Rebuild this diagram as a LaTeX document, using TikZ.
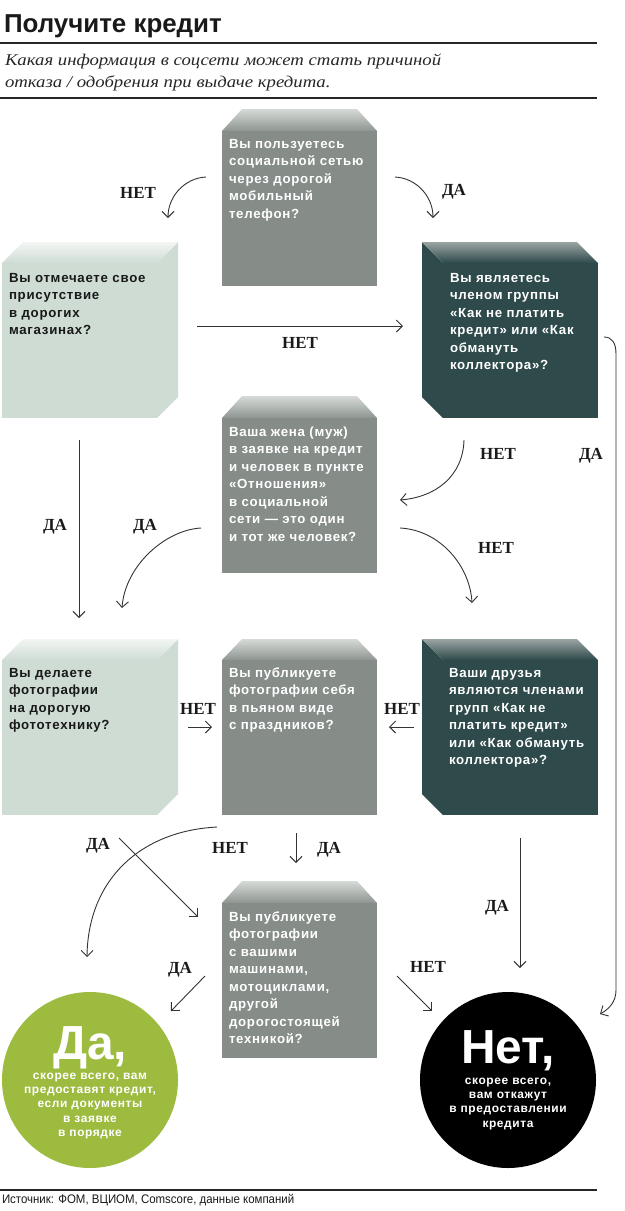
\documentclass[tikz,border=0pt]{standalone}
\usepackage{fontspec}
\setmainfont{Liberation Sans}
\newfontfamily\bxf[LetterSpace=5.5]{Liberation Sans}
\newfontfamily\cxf[LetterSpace=5]{Liberation Sans}
\newfontfamily\lbf{Liberation Serif}
\newfontfamily\subf[FakeStretch=1.14]{Liberation Serif}
\newfontfamily\ftf[FakeStretch=0.92]{Liberation Sans}
\usetikzlibrary{arrows.meta}
\definecolor{gbox}{HTML}{868D89}
\definecolor{gtop}{HTML}{D6DAD7}
\definecolor{gbot}{HTML}{8E9591}
\definecolor{lbox}{HTML}{CFDCD4}
\definecolor{ltop}{HTML}{F3F6F4}
\definecolor{dbox}{HTML}{2E4A4B}
\definecolor{dtop}{HTML}{9AA4A3}
\definecolor{grn}{HTML}{9CBB3F}
\definecolor{linec}{HTML}{333333}
\definecolor{labc}{HTML}{1A1A1A}
\begin{document}
\begin{tikzpicture}[x=1bp,y=-1bp,
  every node/.style={inner sep=0pt,outer sep=0pt},
  face/.style={draw=none,minimum width=155bp,minimum height=155bp,anchor=north west},
  btxt/.style={anchor=base west,text width=170bp,align=left,font=\bxf\bfseries\fontsize{13.3}{17.6}\selectfont},
  ctxt/.style={anchor=base,text width=180bp,align=center,text=white,font=\cxf\bfseries\fontsize{12}{14.5}\selectfont},
  big/.style={anchor=base,text=white,font=\bfseries\fontsize{48}{48}\selectfont},
  lbl/.style={anchor=base,text=labc,font=\lbf\bfseries\fontsize{17}{17}\selectfont},
  arr/.style={draw=linec,line width=0.9bp,-{Straight Barb[length=6bp,width=12bp]}},
  rule/.style={draw=black!85,line width=1.2bp}]
\useasboundingbox (0,0) rectangle (625,1211);

% header
\node[anchor=base west,font=\bfseries\fontsize{26}{26}\selectfont,text=black!90] (title) at (4,32) {Получите кредит};
\draw[rule] (0,43) -- (597,43);
\node[anchor=base west,font=\subf\itshape\fontsize{16.5}{22}\selectfont,text=black!85] (sub1) at (5,65) {Какая информация в соцсети может стать причиной};
\node[anchor=base west,font=\subf\itshape\fontsize{16.5}{22}\selectfont,text=black!85] (sub2) at (5,87) {отказа / одобрения при выдаче кредита.};
\draw[rule] (0,98) -- (597,98);

% ---- B1 grey (trapezoid top)
\shade[top color=gtop,bottom color=gbot] (222,131) -- (242,109) -- (357,109) -- (377,131) -- cycle;
\node[face,fill=gbox] (b1) at (222,131) {};
\node[btxt,text=white] (t1) at (229,148) {Вы пользуетесь\\социальной сетью\\через дорогой\\мобильный\\телефон?};

% ---- B2 light (side right)
\fill[lbox] (157,263) -- (178,242) -- (178,397) -- (157,418) -- cycle;
\shade[top color=ltop,bottom color=lbox] (2,263) -- (23,242) -- (178,242) -- (157,263) -- cycle;
\node[face,fill=lbox] (b2) at (2,263) {};
\node[btxt,text=black!90] (t2) at (9,282) {Вы отмечаете свое\\присутствие\\в дорогих\\магазинах?};

% ---- B3 dark (side left)
\fill[dbox] (443,263) -- (422,242) -- (422,397) -- (443,418) -- cycle;
\shade[top color=dtop,bottom color=dbox] (443,263) -- (422,242) -- (577,242) -- (598,263) -- cycle;
\node[face,fill=dbox] (b3) at (443,263) {};
\node[btxt,text=white] (t3) at (450,282) {Вы являетесь\\членом группы\\«Как не платить\\кредит» или «Как\\обмануть\\коллектора»?};

% ---- B4 grey
\shade[top color=gtop,bottom color=gbot] (222,418) -- (242,396) -- (357,396) -- (377,418) -- cycle;
\node[face,fill=gbox] (b4) at (222,418) {};
\node[btxt,text=white] (t4) at (229,436) {Ваша жена (муж)\\в заявке на кредит\\и человек в пункте\\«Отношения»\\в социальной\\сети — это один\\и тот же человек?};

% ---- B5 light
\fill[lbox] (157,660) -- (178,639) -- (178,794) -- (157,815) -- cycle;
\shade[top color=ltop,bottom color=lbox] (2,660) -- (23,639) -- (178,639) -- (157,660) -- cycle;
\node[face,fill=lbox] (b5) at (2,660) {};
\node[btxt,text=black!90] (t5) at (9,677) {Вы делаете\\фотографии\\на дорогую\\фототехнику?};

% ---- B6 grey
\shade[top color=gtop,bottom color=gbot] (222,660) -- (242,639) -- (357,639) -- (377,660) -- cycle;
\node[face,fill=gbox] (b6) at (222,660) {};
\node[btxt,text=white] (t6) at (229,677) {Вы публикуете\\фотографии себя\\в пьяном виде\\с праздников?};

% ---- B7 dark
\fill[dbox] (443,660) -- (422,639) -- (422,794) -- (443,815) -- cycle;
\shade[top color=dtop,bottom color=dbox] (443,660) -- (422,639) -- (577,639) -- (598,660) -- cycle;
\node[face,fill=dbox] (b7) at (443,660) {};
\node[btxt,text=white] (t7) at (449,677) {Ваши друзья\\являются членами\\групп «Как не\\платить кредит»\\или «Как обмануть\\коллектора»?};

% ---- B8 grey
\shade[top color=gtop,bottom color=gbot] (222,903) -- (242,881) -- (357,881) -- (377,903) -- cycle;
\node[face,fill=gbox] (b8) at (222,903) {};
\node[btxt,text=white] (t8) at (229,921) {Вы публикуете\\фотографии\\с вашими\\машинами,\\мотоциклами,\\другой\\дорогостоящей\\техникой?};

% ---- result circles
\node[circle,fill=grn,minimum size=176bp] (yes) at (90,1080) {};
\node[big] (yesbig) at (90,1059) {Да,};
\node[ctxt] (yestxt) at (90,1079) {скорее всего, вам\\предоставят кредит,\\если документы\\в заявке\\в порядке};
\node[circle,fill=black,minimum size=176bp] (no) at (508,1080) {};
\node[big] (nobig) at (508,1063) {Нет,};
\node[ctxt] (notxt) at (508,1084) {скорее всего,\\вам откажут\\в предоставлении\\кредита};

% ---- connector end points
\coordinate (a1s) at (206,177); \coordinate (a1e) at (168,218);
\coordinate (a2s) at (395,177); \coordinate (a2e) at (433,218);
\coordinate (a3s) at (197,326); \coordinate (a3e) at (403,326);
\coordinate (a4s) at (79,440);  \coordinate (a4e) at (79,618);
\coordinate (a5s) at (464,440); \coordinate (a5e) at (400,500);
\coordinate (a6s) at (604,337); \coordinate (a6e) at (600,1014);
\coordinate (a7s) at (201,528); \coordinate (a7e) at (122,608);
\coordinate (a8s) at (400,528); \coordinate (a8e) at (472,603);
\coordinate (a9s) at (188,727); \coordinate (a9e) at (212,727);
\coordinate (a10s) at (414,727); \coordinate (a10e) at (389,727);
\coordinate (a11s) at (119,838); \coordinate (a11e) at (198,917);
\coordinate (a12s) at (217,827); \coordinate (a12e) at (87,957);
\coordinate (a13s) at (296,833); \coordinate (a13e) at (296,863);
\coordinate (a14s) at (520,838); \coordinate (a14e) at (520,968);
\coordinate (a15s) at (205,976); \coordinate (a15e) at (171,1011);
\coordinate (a16s) at (397,976); \coordinate (a16e) at (432,1011);

\draw[arr] (a1s) .. controls (185,178) and (168,196) .. (a1e);
\draw[arr] (a2s) .. controls (416,178) and (433,196) .. (a2e);
\draw[arr] (a3s) -- (a3e);
\draw[arr] (a4s) -- (a4e);
\draw[arr] (a5s) .. controls (463,476) and (436,497) .. (a5e);
\draw[arr] (a6s) .. controls (612,337) and (616,343) .. (616,354) -- (616,990) .. controls (616,1002) and (609,1009) .. (a6e);
\draw[arr] (a7s) .. controls (165,530) and (125,566) .. (a7e);
\draw[arr] (a8s) .. controls (440,530) and (470,566) .. (a8e);
\draw[arr] (a9s) -- (a9e);
\draw[arr] (a10s) -- (a10e);
\draw[arr] (a11s) -- (a11e);
\draw[arr] (a12s) .. controls (140,831) and (88,880) .. (a12e);
\draw[arr] (a13s) -- (a13e);
\draw[arr] (a14s) -- (a14e);
\draw[arr] (a15s) -- (a15e);
\draw[arr] (a16s) -- (a16e);

% ---- labels
\node[lbl] (l1) at (138,198) {НЕТ};
\node[lbl] (l2) at (454,195) {ДА};
\node[lbl] (l3) at (300,348) {НЕТ};
\node[lbl] (l4) at (55,530) {ДА};
\node[lbl] (l5) at (498,459) {НЕТ};
\node[lbl] (l6) at (591,459) {ДА};
\node[lbl] (l7) at (145,530) {ДА};
\node[lbl] (l8) at (496,553) {НЕТ};
\node[lbl] (l9) at (198,714) {НЕТ};
\node[lbl] (l10) at (402,714) {НЕТ};
\node[lbl] (l11) at (98,849) {ДА};
\node[lbl] (l12) at (230,853) {НЕТ};
\node[lbl] (l13) at (329,853) {ДА};
\node[lbl] (l14) at (497,911) {ДА};
\node[lbl] (l15) at (180,973) {ДА};
\node[lbl] (l16) at (428,972) {НЕТ};

% footer
\draw[rule] (0,1190) -- (597,1190);
\node[anchor=base west,font=\ftf\fontsize{12.5}{12.5}\selectfont,text=black!90] (src) at (2,1203) {Источник: ФОМ, ВЦИОМ, Comscore, данные компаний};
\end{tikzpicture}
\end{document}
